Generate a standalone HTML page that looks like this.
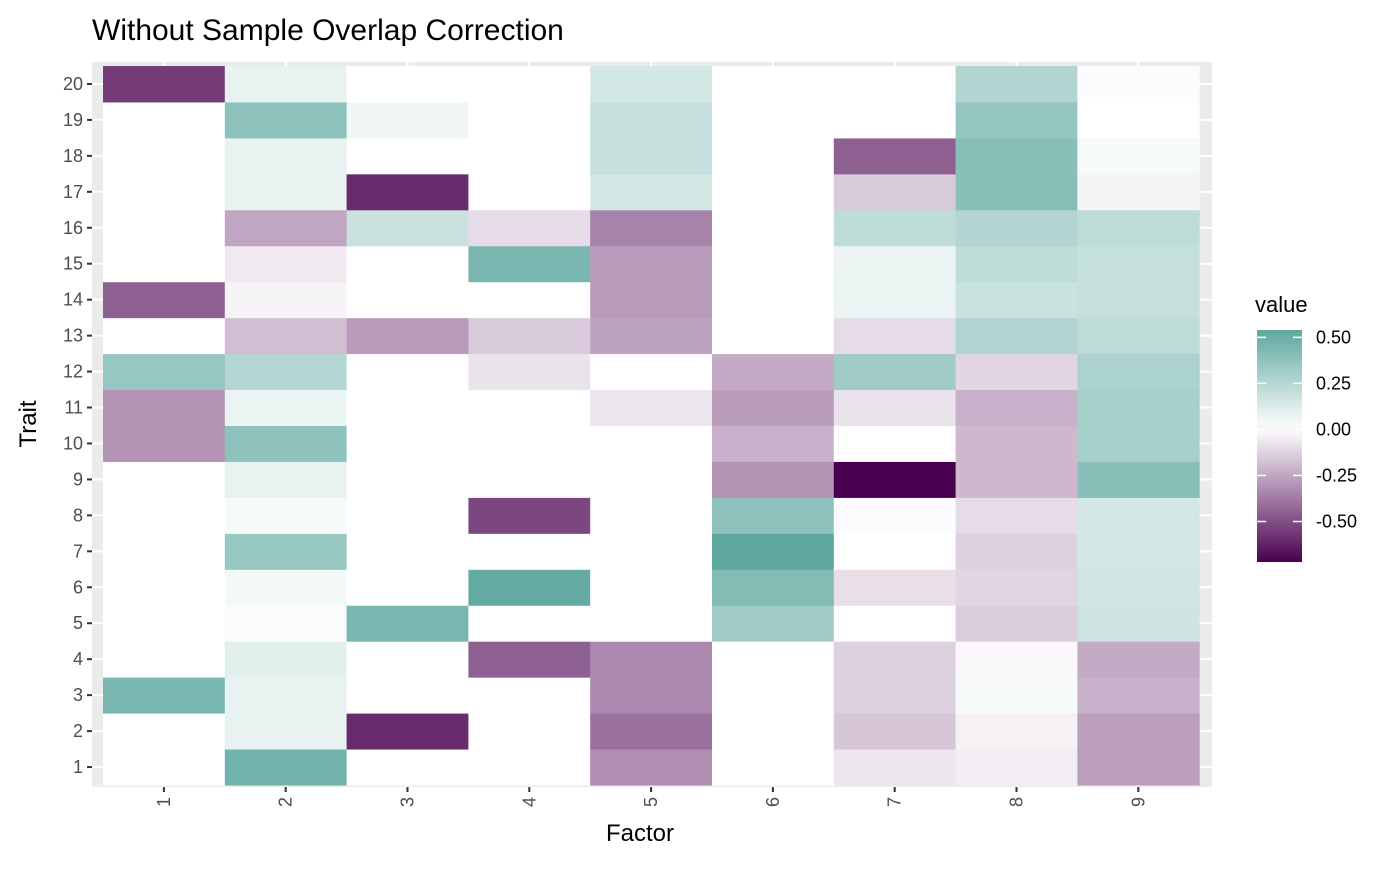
<!DOCTYPE html>
<html><head><meta charset="utf-8"><style>
body{margin:0;background:#fff;font-family:"Liberation Sans","DejaVu Sans",sans-serif;}
svg text{font-family:"Liberation Sans","DejaVu Sans",sans-serif;}
</style></head><body>
<svg id="c" width="1400" height="865">
<defs><linearGradient id="g" x1="0" y1="1" x2="0" y2="0"></linearGradient></defs>
<text x="92" y="40" font-size="30" fill="#000">Without Sample Overlap Correction</text>
<rect x="92" y="62" width="1120" height="725" fill="#ebebeb"/>
<g id="grid"></g><g id="cells"></g><g id="axes"></g>
<text x="640" y="841" font-size="24" text-anchor="middle">Factor</text>
<text transform="translate(36,424) rotate(-90)" font-size="24" text-anchor="middle">Trait</text>
<text x="1255" y="312" font-size="22">value</text>
<rect x="1257" y="330" width="45" height="232" fill="url(#g)"/>
<g id="leg"></g>
</svg>
<script>
const factors=[1,2,3,4,5,6,7,8,9];
const traits=[1,2,3,4,5,6,7,8,9,10,11,12,13,14,15,16,17,18,19,20];
const col1=[0,0,0.45,0,0,0,0,0,0,-0.3,-0.3,0.35,0,-0.45,0,0,0,0,0,-0.55];
const col2=[0.48,0.08,0.08,0.1,0.02,0.04,0.35,0.03,0.08,0.38,0.07,0.25,-0.18,-0.03,-0.06,-0.25,0.08,0.08,0.38,0.08];
const col3=[0,-0.6,0,0,0.45,0,0,0,0,0,0,0,-0.28,0,0,0.18,-0.6,0,0.05,0];
const col4=[0,0,0,-0.45,0,0.52,0,-0.52,0,0,0,-0.08,-0.15,0,0.45,-0.1,0,0,0,0];
const col5=[-0.32,-0.4,-0.33,-0.33,0,0,0,0,0,0,-0.07,0,-0.26,-0.28,-0.28,-0.35,0.15,0.2,0.2,0.15];
const col6=[0,0,0,0,0.32,0.42,0.54,0.38,-0.3,-0.22,-0.28,-0.24,0,0,0,0,0,0,0,0];
const col7=[-0.07,-0.16,-0.13,-0.13,0,-0.09,0,-0.01,-0.72,0,-0.08,0.32,-0.1,0.07,0.06,0.22,-0.15,-0.45,0,0];
const col8=[-0.05,-0.04,0.03,-0.02,-0.14,-0.12,-0.13,-0.1,-0.2,-0.2,-0.22,-0.12,0.26,0.18,0.22,0.26,0.4,0.4,0.36,0.26];
const col9=[-0.27,-0.27,-0.22,-0.24,0.17,0.16,0.15,0.15,0.4,0.3,0.3,0.28,0.22,0.2,0.2,0.22,-0.03,0.03,0,-0.01];
const values=[col1,col2,col3,col4,col5,col6,col7,col8,col9];
const legendTicks=[0.5,0.25,0,-0.25,-0.5];
const legendLabels=["0.50","0.25","0.00","-0.25","-0.50"];
const vmin=-0.72,vmax=0.54;
const NS="http://www.w3.org/2000/svg";
const x0=103,cw=121.8,yb=785,rh=35.95;
const xs=i=>x0+i*cw; const ys=j=>yb-(j+1)*rh;
function color(v){let a,b,t;
 if(v>=0){t=Math.min(v/vmax,1);a=[255,255,255];b=[95,168,160];}
 else{t=Math.min(v/vmin,1);a=[255,255,255];b=[74,0,80];}
 const c=a.map((x,k)=>Math.round(x+(b[k]-x)*t));return `rgb(${c})`;}
function el(tag,at,par){const e=document.createElementNS(NS,tag);for(const k in at)e.setAttribute(k,at[k]);document.getElementById(par).appendChild(e);return e;}
factors.forEach((f,i)=>{const cx=xs(i)+cw/2;
 const g=el('line',{x1:cx,x2:cx,y1:62,y2:787,stroke:'#fff','stroke-width':2},'grid');
 
 
 const t=el('line',{x1:cx,x2:cx,y1:787,y2:792,stroke:'#333','stroke-width':2},'axes');
 
 
 const l=el('text',{transform:`translate(${cx+6},797) rotate(-90)`,'font-size':18,fill:'#4d4d4d','text-anchor':'end'},'axes');l.textContent=f;
 
 });
traits.forEach((tr,j)=>{const cy=ys(j)+rh/2;
 const g=el('line',{x1:92,x2:1212,y1:cy,y2:cy,stroke:'#fff','stroke-width':2},'grid');
 
 
 const t=el('line',{x1:87,x2:92,y1:cy,y2:cy,stroke:'#333','stroke-width':2},'axes');
 
 
 const l=el('text',{x:83,y:cy+6,'font-size':18,fill:'#4d4d4d','text-anchor':'end'},'axes');l.textContent=tr;
 
 });
values.forEach((col,i)=>col.forEach((v,j)=>{
 const r=el('rect',{x:xs(i),y:ys(j),width:cw+0.5,height:rh+0.5,fill:color(v)},'cells');
 
 }));
const grad=document.getElementById('g');
for(let k=0;k<=20;k++){const v=vmin+(vmax-vmin)*k/20;const s=document.createElementNS(NS,'stop');s.setAttribute('offset',k/20);s.setAttribute('stop-color',color(v));grad.appendChild(s);}
const ly=v=>562-(v-vmin)/(vmax-vmin)*232;
legendTicks.forEach((v,k)=>{const y=ly(v);
 el('line',{x1:1257,x2:1266,y1:y,y2:y,stroke:'#fff','stroke-width':1.5},'leg');
 el('line',{x1:1293,x2:1302,y1:y,y2:y,stroke:'#fff','stroke-width':1.5},'leg');
 const t=el('text',{x:1316,y:y+6,'font-size':18,fill:'#000'},'leg');t.textContent=legendLabels[k];
 
 });
</script>
</body></html>
